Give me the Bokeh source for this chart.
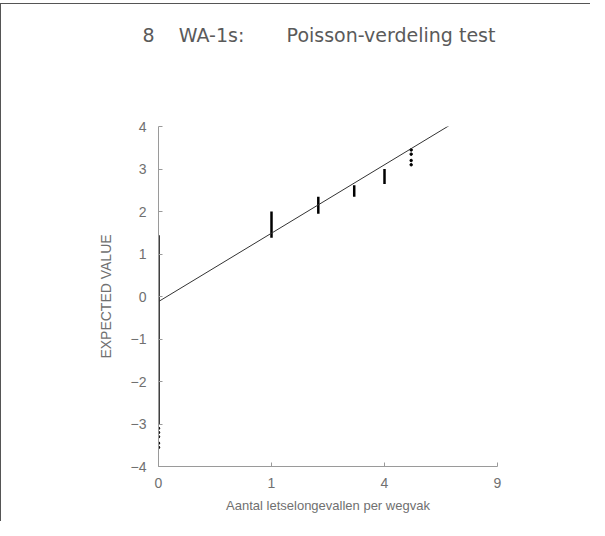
import numpy as np
from bokeh.plotting import figure
from bokeh.models import FixedTicker, Range1d, ColumnDataSource, Title
from bokeh.embed import file_html
from bokeh.resources import INLINE

# ---- data ----
title_parts = ["8", "WA-1s:", "Poisson-verdeling test"]
x_label = "Aantal letselongevallen per wegvak"
y_label = "EXPECTED VALUE"

# counts (x, plotted on a square-root scale) and vertical extent of each stack of points
stack_counts = [0, 1, 2, 3, 4]
stack_low = [-3.0, 1.38, 1.95, 2.35, 2.65]
stack_high = [1.44, 2.0, 2.35, 2.62, 3.0]

# isolated points
dot_counts = [0, 0, 0, 0, 0, 5, 5, 5, 5]
dot_values = [-3.1, -3.2, -3.3, -3.45, -3.55, 3.1, 3.2, 3.35, 3.45]

# fitted reference line (expected value vs sqrt(count))
fit_intercept = -0.12
fit_slope = 1.61

x_tick_counts = [0, 1, 4, 9]
y_ticks = [-4, -3, -2, -1, 0, 1, 2, 3, 4]

GREY = "#707070"
FONT = "Liberation Sans"
NB = "\u00a0"

p = figure(frame_width=339, frame_height=340,
           min_border_left=157, min_border_right=93,
           min_border_top=122, min_border_bottom=55,
           x_range=Range1d(0, 3), y_range=Range1d(-4, 4),
           output_backend="svg", toolbar_location=None)
p.styles = {"border-left": "1px solid #555", "border-top": "1px solid #555",
            "margin-top": "3px"}
p.outline_line_color = None
p.xgrid.visible = False
p.ygrid.visible = False

# blank spacer title nearest the frame, then the real title further out
p.add_layout(Title(text=NB, text_font_size="2px", text_color="white", standoff=77), "above")
p.add_layout(Title(text=title_parts[0] + NB * 4 + title_parts[1] + NB * 7 + title_parts[2],
                   text_font="DejaVu Sans", text_font_size="19px",
                   text_font_style="normal", text_color="#5a5a5a",
                   align="left", offset=-16, standoff=0), "above")

# stacks
src = ColumnDataSource(dict(x=np.sqrt(stack_counts), y0=stack_low, y1=stack_high))
p.segment(x0="x", y0="y0", x1="x", y1="y1", source=src, line_color="black", line_width=2.5)
dsrc = ColumnDataSource(dict(x=np.sqrt(dot_counts), y=dot_values))
p.scatter(x="x", y="y", source=dsrc, size=2.5, color="black", marker="circle")

# fit line
fx = np.array([0.0, 3.0])
p.line(fx, fit_intercept + fit_slope * fx, line_color="#333333", line_width=1)

# axes
for ax in (p.xaxis, p.yaxis):
    ax.axis_line_color = "#9a9a9a"
    ax.major_tick_line_color = "#9a9a9a"
    ax.major_tick_in = 4
    ax.major_tick_out = 0
    ax.minor_tick_line_color = None
    ax.major_label_text_color = GREY
    ax.major_label_text_font = FONT
    ax.major_label_text_font_size = "14px"
    ax.axis_label_text_color = GREY
    ax.axis_label_text_font = FONT
    ax.axis_label_text_font_style = "normal"

p.xaxis.ticker = FixedTicker(ticks=[float(np.sqrt(c)) for c in x_tick_counts])
p.xaxis.major_label_overrides = {int(round(np.sqrt(c))): str(c) for c in x_tick_counts}
p.xaxis.major_label_standoff = 11
p.xaxis.axis_label = x_label
p.xaxis.axis_label_text_font_size = "13px"
p.xaxis.axis_label_standoff = 7

p.yaxis.ticker = FixedTicker(ticks=y_ticks)
p.yaxis.major_label_standoff = 12
p.yaxis.axis_label = y_label
p.yaxis.axis_label_text_font_size = "14px"
p.yaxis.axis_label_standoff = 14

open("out.html", "w").write(file_html(p, INLINE))
